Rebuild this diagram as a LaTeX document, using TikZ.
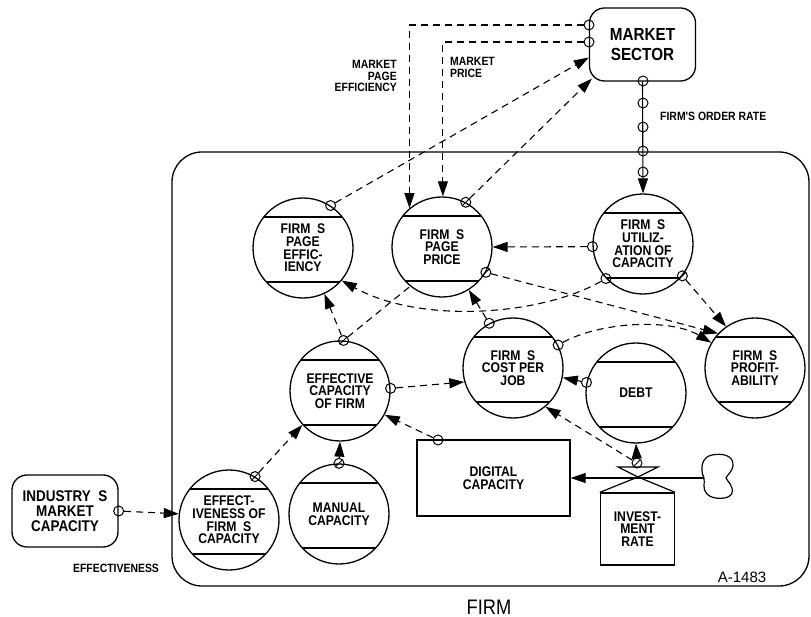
\documentclass[tikz,border=0pt]{standalone}
\usepackage{fontspec}
\setmainfont{Liberation Sans}
\newfontfamily\lf{Liberation Sans}[FakeStretch=0.87]
\usetikzlibrary{arrows.meta}
\begin{document}
\begin{tikzpicture}[x=1pt,y=-1pt,
  every node/.style={inner sep=0pt},
  lev/.style={circle, draw, line width=1.3pt, minimum size=100pt, inner sep=0pt, align=center,
    font=\lf\bfseries\fontsize{14}{12.7}\selectfont,
    path picture={\draw[line width=1.4pt] ([shift={(-60,-31)}]path picture bounding box.center) -- +(120,0)
      ([shift={(-60,34)}]path picture bounding box.center) -- +(120,0);}},
  rbox/.style={draw, rounded corners=15pt, line width=1.3pt, align=center},
  sbox/.style={draw, line width=1.3pt, align=center, font=\lf\bfseries\fontsize{14}{12.7}\selectfont},
  mk/.style={circle, draw, line width=1pt, minimum size=10pt, inner sep=0pt},
  mkx/.style={mk, path picture={\draw[line width=0.9pt] (path picture bounding box.south west) -- (path picture bounding box.north east);}},
  dl/.style={line width=1.1pt, dash pattern=on 7pt off 5pt},
  sl/.style={line width=1.1pt},
  arr/.style={-{Triangle[length=15pt,width=10pt]}},
  lbl/.style={font=\lf\bfseries\fontsize{12}{11.5}\selectfont}
]
\useasboundingbox (0,0) rectangle (811,617);

% firm boundary
\draw[line width=1.3pt, rounded corners=30pt] (172,152) rectangle (809,586);

% level circles
\node[lev] (pe) at (303,248) {FIRM\ \ S\\PAGE\\EFFIC-\\IENCY};
\node[lev] (pp) at (442,247) {FIRM\ \ S\\PAGE\\PRICE};
\node[lev] (ut) at (643,244) {FIRM\ \ S\\UTILIZ-\\ATION OF\\CAPACITY};
\node[lev] (ec) at (340,391) {EFFECTIVE\\CAPACITY\\OF FIRM};
\node[lev] (ef) at (229,520) {EFFECT-\\IVENESS OF\\FIRM\ \ S\\CAPACITY};
\node[lev] (mc) at (339,514) {MANUAL\\CAPACITY};
\node[lev] (cj) at (513,368) {FIRM\ \ S\\COST PER\\JOB};
\node[lev] (db) at (636,393) {DEBT};
\node[lev] (pf) at (755,368) {FIRM\ \ S\\PROFIT-\\ABILITY};

% boxes
\node[rbox, minimum width=106pt, minimum height=73pt, font=\lf\bfseries\fontsize{17.5}{20}\selectfont] (ms) at (642.5,44.5) {MARKET\\SECTOR};
\node[rbox, minimum width=106pt, minimum height=72pt, font=\lf\bfseries\fontsize{15.5}{15}\selectfont] (im) at (65,511) {INDUSTRY\ \ S\\MARKET\\CAPACITY};
\node[sbox, minimum width=153pt, minimum height=76pt] (dc) at (493.5,478) {DIGITAL\\CAPACITY};
\node[sbox, minimum width=74pt, minimum height=72pt] (ir) at (637.5,529) {INVEST-\\MENT\\RATE};

% valve
\draw[line width=1.2pt] (618,467) -- (658,467) -- (638,477) -- cycle;
\draw[line width=1.2pt] (ir.north west) -- (638,477) -- (ir.north east);

% cloud
\coordinate (cl) at (704,478);
\draw[line width=1.2pt] (cl) .. controls (700,470) and (701,457) .. (712,455)
  .. controls (722,453) and (734,455) .. (733,466)
  .. controls (732,472) and (727,475) .. (726,478)
  .. controls (727,481) and (734,486) .. (732,493)
  .. controls (730,500) and (712,500) .. (707,494)
  .. controls (702,489) and (705,483) .. (cl);

% markers
\node[mk] (msA) at (589,25) {};
\node[mk] (msB) at (589,42) {};
\node[mk] (peA) at (pe.57) {};
\node[mkx] (ppA) at (pp.62) {};
\node[mk] (o1) at (643,81) {};
\node[mk] (o2) at (643,103) {};
\node[mk] (o3) at (643,127) {};
\node[mk] (o4) at (643,151) {};
\node[mk] (o5) at (643,172) {};
\node[mk] (utA) at (ut.183) {};
\node[mkx] (utB) at (ut.-39) {};
\node[mk] (utC) at (ut.-137) {};
\node[mkx] (ppB) at (pp.-30) {};
\node[mk] (cjA) at (cj.27) {};
\node[mk] (cjB) at (cj.118) {};
\node[mkx] (ecA) at (ec.86) {};
\node[mk] (ecB) at (ec.3) {};
\node[mk] (dcA) at (438,440) {};
\node[mk] (dbA) at (db.168) {};
\node[mkx] (vA) at (637,463) {};
\node[mkx] (mcA) at (mc.90) {};
\node[mkx] (efA) at (ef.59) {};
\node[mk] (imA) at (im.east) {};

% connectors
\draw[dl,arr] (msA) -| (pp.130);
\draw[dl,arr] (msB) -| (pp.89);
\draw[dl,arr] (peA) -- ([yshift=-13pt]ms.west);
\draw[dl,arr] (ppA) -- ([shift={(3pt,3pt)}]ms.south west);
\draw[sl,arr] (ms.south) -- (ut.north);
\draw[dl,arr] (utA) -- (pp.0);
\draw[dl,arr] (utB) -- (pf.125);
\draw[dl,arr] (utC) .. controls (540,316) and (420,324) .. (pe.-40);
\draw[dl,arr] (ppB) -- (pf.137);
\draw[dl,arr] (cjA) .. controls (600,322) and (670,318) .. (pf.150);
\draw[dl,arr] (cjB) -- (pp.-58);
\draw[dl,arr] (ecA) -- (pe.-65);
\draw[dl] (ecA) -- (pp.-129);
\draw[dl,arr] (ecB) -- (cj.196);
\draw[dl,arr] (dcA) -- (ec.-28);
\draw[dl,arr] (dbA) -- (cj.-11);
\draw[dl,arr] (vA) -- (db.-90);
\draw[dl,arr] (vA) -- (cj.-50);
\draw[sl,arr] (cl) -- (dc.east);
\draw[dl,arr] (mcA) -- (ec.-90);
\draw[dl,arr] (efA) -- (ec.-138);
\draw[dl,arr] (imA) -- (ef.173);

% labels
\node[lbl, align=right, anchor=east] (lmpe) at (397,76) {MARKET\\PAGE\\EFFICIENCY};
\node[lbl, align=left, anchor=west] (lmp) at (450,67.5) {MARKET\\PRICE};
\node[lbl, anchor=west] (lor) at (660,116) {FIRM'S ORDER RATE};
\node[lbl] (lef) at (116,568) {EFFECTIVENESS};
\node[font=\lf\fontsize{21}{21}\selectfont] (lfirm) at (489,607) {FIRM};
\node[font=\fontsize{15}{15}\selectfont] (lnum) at (742,577) {A-1483};
\end{tikzpicture}
\end{document}
